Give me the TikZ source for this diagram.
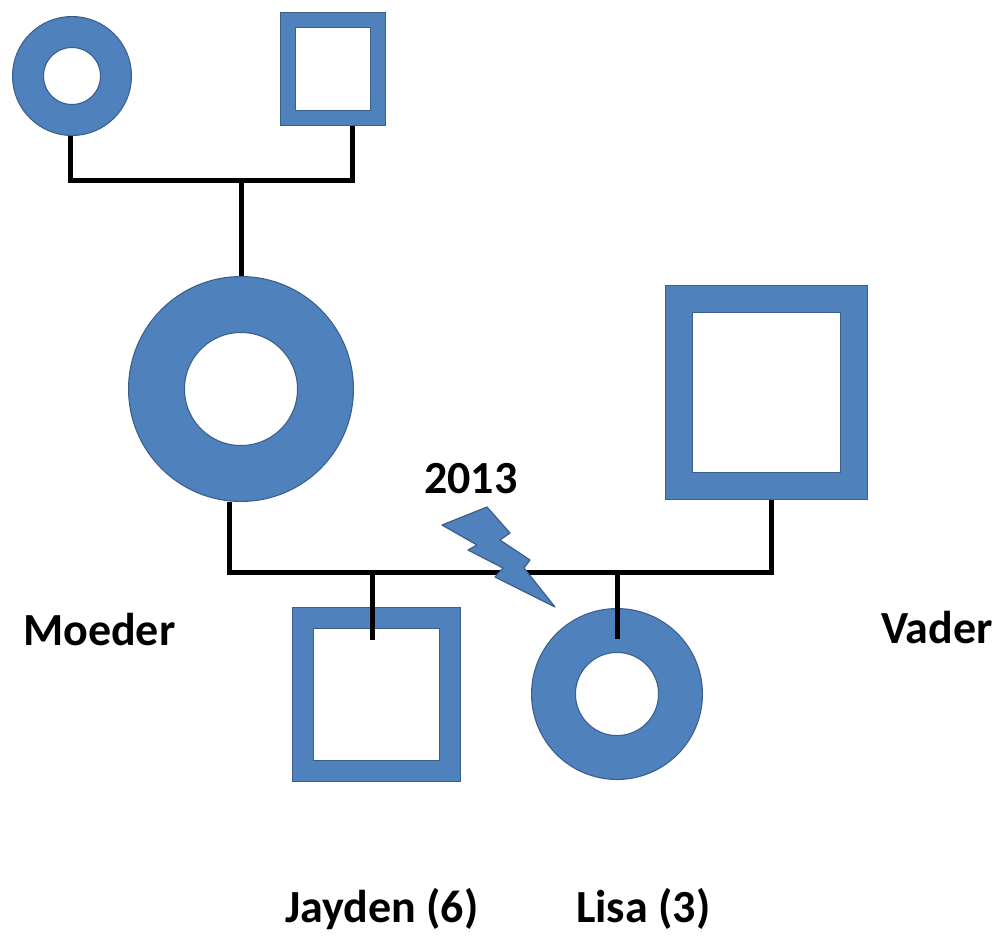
\documentclass[tikz,border=0pt]{standalone}
\usepackage{fontspec}
\setmainfont{Carlito}
\usetikzlibrary{positioning}

\definecolor{famblue}{HTML}{4F81BD}
\definecolor{famedge}{HTML}{3A5F8B}

\tikzset{
  female/.style 2 args={circle,inner sep=0pt,draw=famedge,double=famblue,
    line width=1.2pt,minimum size={2*#1-#2},double distance={#2-2.4pt},outer sep={#2/2}},
  male/.style n args={3}{rectangle,inner sep=0pt,draw=famedge,double=famblue,
    line width=1.2pt,minimum width={#1-#3},minimum height={#2-#3},
    double distance={#3-2.4pt},outer sep={#3/2}},
  link/.style={draw=black,line width=5pt},
  famname/.style={font=\bfseries\fontsize{46}{50}\selectfont,inner sep=0pt,anchor=base west},
  bolt/.style={fill=famblue,draw=famedge,line width=1.2pt,line join=round}
}

\begin{document}
\begin{tikzpicture}[x=1pt,y=-1pt]
  \useasboundingbox (0,0) rectangle (1008,937);

  \node[female={60pt}{32pt}] (oma) at (72,76) {};
  \node[male={106pt}{114pt}{16pt}] (opa) at (333,69) {};
  \node[female={113pt}{57pt}] (moeder) at (241,389) {};
  \node[male={203pt}{215pt}{28pt}] (vader) at (766.5,392.5) {};
  \node[male={169pt}{175pt}{22pt}] (jayden) at (376.5,694.5) {};
  \node[female={86pt}{45pt}] (lisa) at (617,694) {};

  \coordinate (topbar) at (241,180);
  \coordinate (bar) at (500,572);

  \draw[link] ([xshift=-2pt]oma.south) |- (topbar) -| ([xshift=19pt]opa.south);
  \draw[link] (topbar) -- (moeder.north);
  \draw[link] ([xshift=-12pt]moeder.south) |- (bar) -| ([xshift=4.5pt]vader.south);
  \draw[link] ([xshift=-4.5pt]jayden.north |- bar) -- ([xshift=-4.5pt,yshift=-33pt]jayden.north);
  \draw[link] (lisa.north |- bar) -- ([yshift=-31pt]lisa.north);

  % divorce
  \draw[bolt] (442,525) -- (487,507) -- (510,533) -- (500,540) -- (530,560)
    -- (524,568) -- (555,607) -- (495,577) -- (503,568) -- (468,550)
    -- (477,545) -- cycle;

  \node[famname] (year) at (424,493) {2013};
  \node[famname] (lmoeder) at (23,645) {Moeder};
  \node[famname] (lvader) at (881,643) {Vader};
  \node[famname] (ljayden) at (285,922) {Jayden (6)};
  \node[famname] (llisa) at (576,922) {Lisa (3)};
\end{tikzpicture}
\end{document}
